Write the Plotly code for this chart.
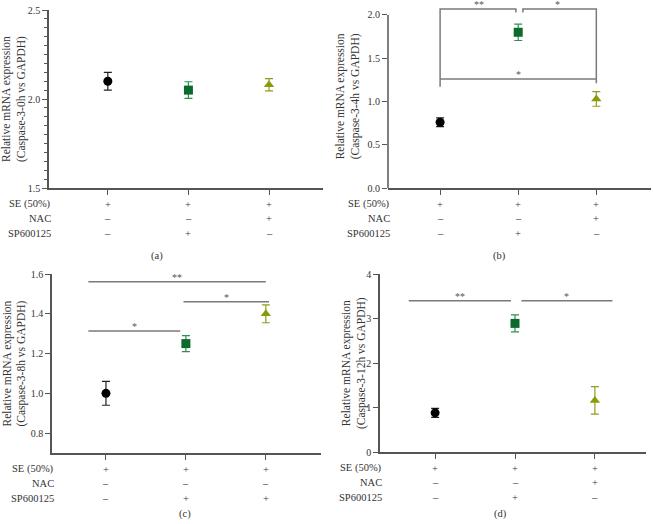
import plotly.graph_objects as go

W, H = 653, 524
FONT = "Liberation Serif"

# ---------------- data ----------------
categories = [1, 2, 3]
row_names = ["SE (50%)", "NAC", "SP600125"]

a_mean = [2.10, 2.05, 2.08]
a_err = [0.05, 0.047, 0.034]
b_mean = [0.76, 1.80, 1.03]
b_err = [0.05, 0.095, 0.085]
c_mean = [1.00, 1.25, 1.40]
c_err = [0.06, 0.04, 0.045]
d_mean = [0.88, 2.89, 1.16]
d_err = [0.10, 0.19, 0.31]

a_rows = [["+", "+", "+"], ["–", "–", "+"], ["–", "+", "–"]]
b_rows = [["+", "+", "+"], ["–", "–", "+"], ["–", "+", "–"]]
c_rows = [["+", "+", "+"], ["–", "–", "–"], ["–", "+", "+"]]
d_rows = [["+", "+", "+"], ["–", "–", "+"], ["–", "+", "–"]]

a_title = "Relative mRNA expression<br>(Caspase-3-0h vs GAPDH)"
b_title = "Relative mRNA expression<br>(Caspase-3-4h vs GAPDH)"
c_title = "Relative mRNA expression<br>(Caspase-3-8h vs GAPDH)"
d_title = "Relative mRNA expression<br>(Caspase-3-12h vs GAPDH)"

a_ticks = [1.5, 2.0, 2.5]
b_ticks = [0.0, 0.5, 1.0, 1.5, 2.0]
c_ticks = [0.8, 1.0, 1.2, 1.4, 1.6]
d_ticks = [0, 1, 2, 3, 4]

# significance brackets: (x list, y list), label (x, y, text)
b_brackets = [([1, 1, 1.97, 1.97], [1.17, 2.07, 2.07, 2.03]),
              ([2.06, 2.06, 3, 3], [2.03, 2.07, 2.07, 1.21]),
              ([1, 3], [1.26, 1.26])]
b_stars = [(1.5, 2.07, "**"), (2.5, 2.07, "*"), (2.0, 1.26, "*")]
c_brackets = [([0.78, 3.0], [1.561, 1.561]),
              ([1.97, 3.04], [1.46, 1.46]),
              ([0.78, 1.93], [1.314, 1.314])]
c_stars = [(1.89, 1.561, "**"), (2.505, 1.46, "*"), (1.355, 1.314, "*")]
d_brackets = [([0.67, 1.95], [3.40, 3.40]),
              ([2.08, 3.22], [3.40, 3.40])]
d_stars = [(1.31, 3.40, "**"), (2.65, 3.40, "*")]

# ---------------- style ----------------
markers = ["circle", "square", "triangle-up"]
mcolors = ["#000000", "#0b6a2c", "#8a9a08"]
ecolors = ["#222222", "#2f8f4f", "#8f9e1a"]
AX = "#555555"
BR = "#7a7a7a"
TXT = "#333333"


def px_x(p):
    return p / W


def px_y(p):
    return 1 - p / H


panels = [
    dict(k="", mean=a_mean, err=a_err, rows=a_rows, title=a_title, ticks=a_ticks,
         yr=[1.5, 2.5], xr=[0.27, 3.67], xd=[49, 323], yd=[188, 10], tx=14,
         br=[], st=[], lab="(a)", labpos=(157, 256), minor=0.05),
    dict(k="2", mean=b_mean, err=b_err, rows=b_rows, title=b_title, ticks=b_ticks,
         yr=[0, 2.12], xr=[0.333, 3.7], xd=[388, 651], yd=[188, 4.6], tx=348,
         br=b_brackets, st=b_stars, lab="(b)", labpos=(499, 256), minor=None,
         axis_top=2.0),
    dict(k="3", mean=c_mean, err=c_err, rows=c_rows, title=c_title, ticks=c_ticks,
         yr=[0.7, 1.6], xr=[0.325, 3.69], xd=[52, 321], yd=[453, 274], tx=14,
         br=c_brackets, st=c_stars, lab="(c)", labpos=(185, 514), minor=None),
    dict(k="4", mean=d_mean, err=d_err, rows=d_rows, title=d_title, ticks=d_ticks,
         yr=[0, 4], xr=[0.31, 3.64], xd=[380, 646], yd=[452, 274], tx=354,
         br=d_brackets, st=d_stars, lab="(d)", labpos=(500, 514), minor=None),
]

fig = go.Figure()
layout = dict(width=W, height=H, margin=dict(l=0, r=0, t=0, b=0),
              paper_bgcolor="white", plot_bgcolor="white", showlegend=False,
              font=dict(family=FONT, size=10, color=TXT))
annotations = []
shapes = []

for p in panels:
    k = p["k"]
    xa, ya = "x" + k, "y" + k
    for i in range(3):
        fig.add_trace(go.Scatter(
            x=[categories[i]], y=[p["mean"][i]], xaxis=xa, yaxis=ya,
            mode="markers",
            marker=dict(symbol=markers[i], size=9, color=mcolors[i],
                        line=dict(width=0)),
            error_y=dict(type="data", array=[p["err"][i]], color=ecolors[i],
                         thickness=1.2, width=4),
            cliponaxis=False, hoverinfo="skip"))
    for bx, by in p["br"]:
        fig.add_trace(go.Scatter(x=bx, y=by, xaxis=xa, yaxis=ya, mode="lines",
                                 line=dict(color=BR, width=1.5), hoverinfo="skip"))
    for sx, sy, s in p["st"]:
        annotations.append(dict(x=sx, y=sy, xref=xa, yref=ya, text=s, showarrow=False,
                                yanchor="bottom", yshift=-3,
                                font=dict(size=10, color="#555555")))

    x0, x1 = px_x(p["xd"][0]), px_x(p["xd"][1])
    y0, y1 = px_y(p["yd"][0]), px_y(p["yd"][1])
    has_top = "axis_top" in p
    yaxis = dict(domain=[y0, y1], range=p["yr"], anchor=xa, tickvals=p["ticks"],
                 tickformat=".1f" if k != "4" else "d",
                 showline=not has_top, linecolor=AX, linewidth=1.5,
                 ticks="outside", ticklen=5, tickcolor=AX, tickwidth=1,
                 showgrid=False, zeroline=False, automargin=False,
                 tickfont=dict(size=10, color=TXT, family=FONT))
    if p["minor"]:
        yaxis["minor"] = dict(dtick=p["minor"], ticks="outside", ticklen=3,
                              tickcolor=AX, tickwidth=1)
    xaxis = dict(domain=[x0, x1], range=p["xr"], anchor=ya, tickvals=categories,
                 ticktext=["", "", ""], showline=True, linecolor=AX, linewidth=1.5,
                 ticks="outside", ticklen=5, tickcolor=AX, tickwidth=1.2,
                 showgrid=False, zeroline=False, automargin=False)
    layout["xaxis" + k] = xaxis
    layout["yaxis" + k] = yaxis
    if has_top:
        frac = (p["axis_top"] - p["yr"][0]) / (p["yr"][1] - p["yr"][0])
        shapes.append(dict(type="line", xref="paper", yref="paper",
                           x0=x0, x1=x0, y0=y0, y1=y0 + frac * (y1 - y0),
                           line=dict(color=AX, width=1.5)))

    # y-axis title
    annotations.append(dict(x=px_x(p["tx"]), y=(y0 + y1) / 2, xref="paper", yref="paper",
                            text=p["title"], textangle=-90, showarrow=False,
                            xanchor="center", yanchor="middle",
                            font=dict(size=11.5, color=TXT)))

    # treatment table under the x axis
    for r, name in enumerate(row_names):
        yshift = -(16 + 14.5 * r)
        annotations.append(dict(x=0, y=0, xref=xa + " domain", yref=ya + " domain",
                                text=name, showarrow=False, xanchor="right",
                                yanchor="middle", xshift=4, yshift=yshift,
                                font=dict(size=10.5, color=TXT)))
        for i in range(3):
            annotations.append(dict(x=categories[i], y=0, xref=xa, yref=ya + " domain",
                                    text=p["rows"][r][i], showarrow=False,
                                    xanchor="center", yanchor="middle", yshift=yshift,
                                    font=dict(size=10.5, color=TXT)))
    annotations.append(dict(x=px_x(p["labpos"][0]), y=px_y(p["labpos"][1]),
                            xref="paper", yref="paper", text=p["lab"],
                            showarrow=False, xanchor="center", yanchor="middle",
                            font=dict(size=10.5, color=TXT)))

layout["annotations"] = annotations
layout["shapes"] = shapes
fig.update_layout(**layout)
fig.write_html("out.html", config={"displayModeBar": False},
               post_script="document.body.style.margin='0';document.body.style.overflow='hidden';")
